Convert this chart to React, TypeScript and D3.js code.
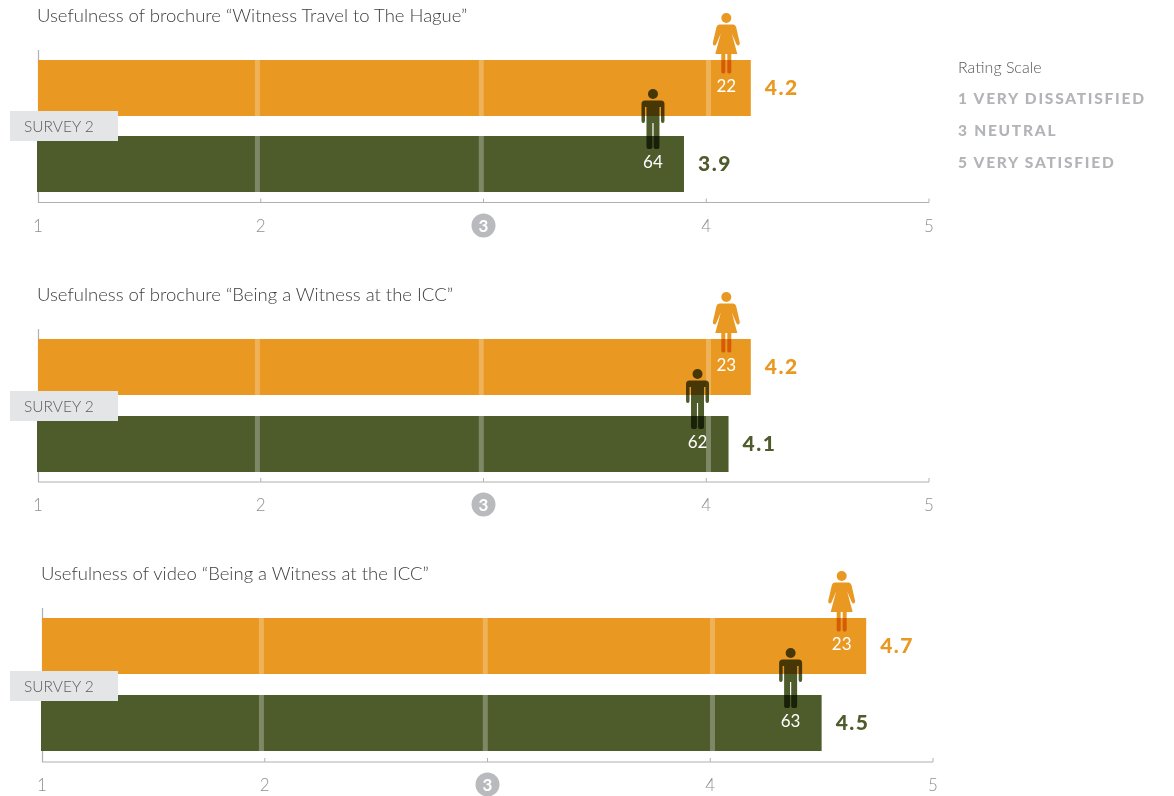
import React from "react";
import * as d3 from "d3";

const titles = [
  "Usefulness of brochure “Witness Travel to The Hague”",
  "Usefulness of brochure “Being a Witness at the ICC”",
  "Usefulness of video “Being a Witness at the ICC”",
];
const womenRatings = [4.2, 4.2, 4.7];
const menRatings = [3.9, 4.1, 4.5];
const womenCounts = [22, 23, 23];
const menCounts = [64, 62, 63];
const axisTicks = [1, 2, 3, 4, 5];
const bandValues = [1.985, 2.99, 4.01];
const legendItems = ["1 VERY DISSATISFIED", "3 NEUTRAL", "5 VERY SATISFIED"];

const ORANGE = "#e99822";
const OLIVE = "#4e5b2b";
const FONT = "Lato, sans-serif";

// layout of each panel: left edge of the scale, first bar top, axis y
const panels = [
  { x0: 38, x1: 929, top: 60, top2: 136, axisY: 202.5, titleX: 37, titleY: 22, labelTop: 111, lineTop: 50, tickY: 232 },
  { x0: 38, x1: 929, top: 339, top2: 416, axisY: 482, titleX: 37, titleY: 301, labelTop: 391, lineTop: 329, tickY: 511 },
  { x0: 42, x1: 933, top: 618, top2: 695, axisY: 762, titleX: 41, titleY: 580, labelTop: 671, lineTop: 608, tickY: 791 },
];
const BAR_H = 56;

function Woman({ cx, top }: { cx: number; top: number }) {
  return (
    <g transform={`translate(${cx},${top})`} fill={ORANGE} style={{ mixBlendMode: "multiply" }}>
      <circle cx={0} cy={5} r={5} />
      <path d="M-7,11.5 L7,11.5 Q9,11.5 9.8,14 L13.5,30 Q13.5,32 12,32.5 Q10.5,32.5 10,31 L5.5,20.5 L11,41 L-11,41 L-5.5,20.5 L-10,31 Q-10.5,32.5 -12,32.5 Q-13.5,32 -13.5,30 L-9.8,14 Q-9,11.5 -7,11.5 Z" />
      <path d="M-5,41 H-1 V59 Q-1,60.5 -3,60.5 Q-5,60.5 -5,59 Z" />
      <path d="M1,41 H5 V59 Q5,60.5 3,60.5 Q1,60.5 1,59 Z" />
    </g>
  );
}

function Man({ cx, top }: { cx: number; top: number }) {
  return (
    <g transform={`translate(${cx},${top})`} fill={OLIVE} style={{ mixBlendMode: "multiply" }}>
      <circle cx={0} cy={5} r={5} />
      <path d="M-8,11.5 H8 Q11.5,11.5 11.5,15 V32 Q11.5,34 9.7,34 Q8,34 8,32 V18 L6.5,18 V58 Q6.5,60 3.5,60 Q0.6,60 0.6,58 V34 H-0.6 V58 Q-0.6,60 -3.5,60 Q-6.5,60 -6.5,58 V18 L-8,18 V32 Q-8,34 -9.7,34 Q-11.5,34 -11.5,32 V15 Q-11.5,11.5 -8,11.5 Z" />
    </g>
  );
}

export default function App() {
  return (
    <svg
      width={1174}
      height={796}
      style={{ position: "absolute", left: 0, top: 0, fontFamily: FONT }}
    >
      {panels.map((p, i) => {
        const x = d3.scaleLinear().domain([1, 5]).range([p.x0, p.x1]);
        const bars = [
          { v: womenRatings[i], n: womenCounts[i], top: p.top, color: ORANGE, band: "rgba(255,255,255,0.25)" },
          { v: menRatings[i], n: menCounts[i], top: p.top2, color: OLIVE, band: "rgba(255,255,255,0.28)" },
        ];
        return (
          <g key={i}>
            <text x={p.titleX} y={p.titleY} fontSize={18.5} fontWeight={300} fill="#3c3c3c">
              {titles[i]}
            </text>
            <path
              d={`M${p.x0 + 0.5},${p.lineTop} V${p.axisY} H${p.x1}`}
              fill="none"
              stroke="#b0b0b0"
              strokeWidth={1.2}
            />
            {axisTicks.slice(1).map((t) => (
              <line key={t} x1={x(t)} x2={x(t)} y1={p.axisY - 4} y2={p.axisY} stroke="#b0b0b0" strokeWidth={1} />
            ))}
            {bars.map((b, j) => (
              <g key={j}>
                <rect x={x(1) - (j ? 1 : 0)} y={b.top} width={x(b.v) - x(1) + (j ? 1 : 0)} height={BAR_H} fill={b.color} />
                {bandValues
                  .filter((v) => v < b.v)
                  .map((v) => (
                    <rect key={v} x={x(v) - 2.5} y={b.top} width={5} height={BAR_H} fill={b.band} />
                  ))}
              </g>
            ))}
            <rect x={10} y={p.labelTop} width={108} height={30} fill="#e4e5e7" />
            <text x={24} y={p.labelTop + 20.5} fontSize={15.5} fontWeight={300} fill="#5c5c5e">
              SURVEY 2
            </text>
            {axisTicks.map((t) =>
              t === 3 ? (
                <g key={t}>
                  <circle cx={x(3)} cy={p.tickY - 6.5} r={12} fill="#b9babe" />
                  <text x={x(3)} y={p.tickY - 0.5} textAnchor="middle" fontSize={17} fontWeight={700} fill="#fff">
                    3
                  </text>
                </g>
              ) : (
                <text key={t} x={x(t) + (t === 1 ? 0 : 0)} y={p.tickY} textAnchor="middle" fontSize={17} fontWeight={300} fill="#8f9094">
                  {t}
                </text>
              ),
            )}
            {bars.map((b, j) => {
              const cx = x(b.v) - (j === 0 ? 24.5 : 31);
              return (
                <g key={`i${j}`}>
                  {j === 0 ? <Woman cx={cx} top={b.top - 47} /> : <Man cx={cx} top={b.top - 47} />}
                  <text x={cx} y={b.top + 32} textAnchor="middle" fontSize={17} fontWeight={400} fill="#fff">
                    {b.n}
                  </text>
                  <text
                    x={x(b.v) + 14}
                    y={b.top + 35}
                    fontSize={21}
                    fontWeight={900}
                    letterSpacing={1.5}
                    fill={b.color}
                  >
                    {b.v.toFixed(1)}
                  </text>
                </g>
              );
            })}
          </g>
        );
      })}
      <text x={958} y={73} fontSize={16} fontWeight={300} fill="#55565a">
        Rating Scale
      </text>
      {legendItems.map((t, i) => (
        <text key={t} x={958} y={104 + i * 32} fontSize={15.5} fontWeight={900} letterSpacing={1.75} fill="#b3b4b8">
          {t}
        </text>
      ))}
    </svg>
  );
}
